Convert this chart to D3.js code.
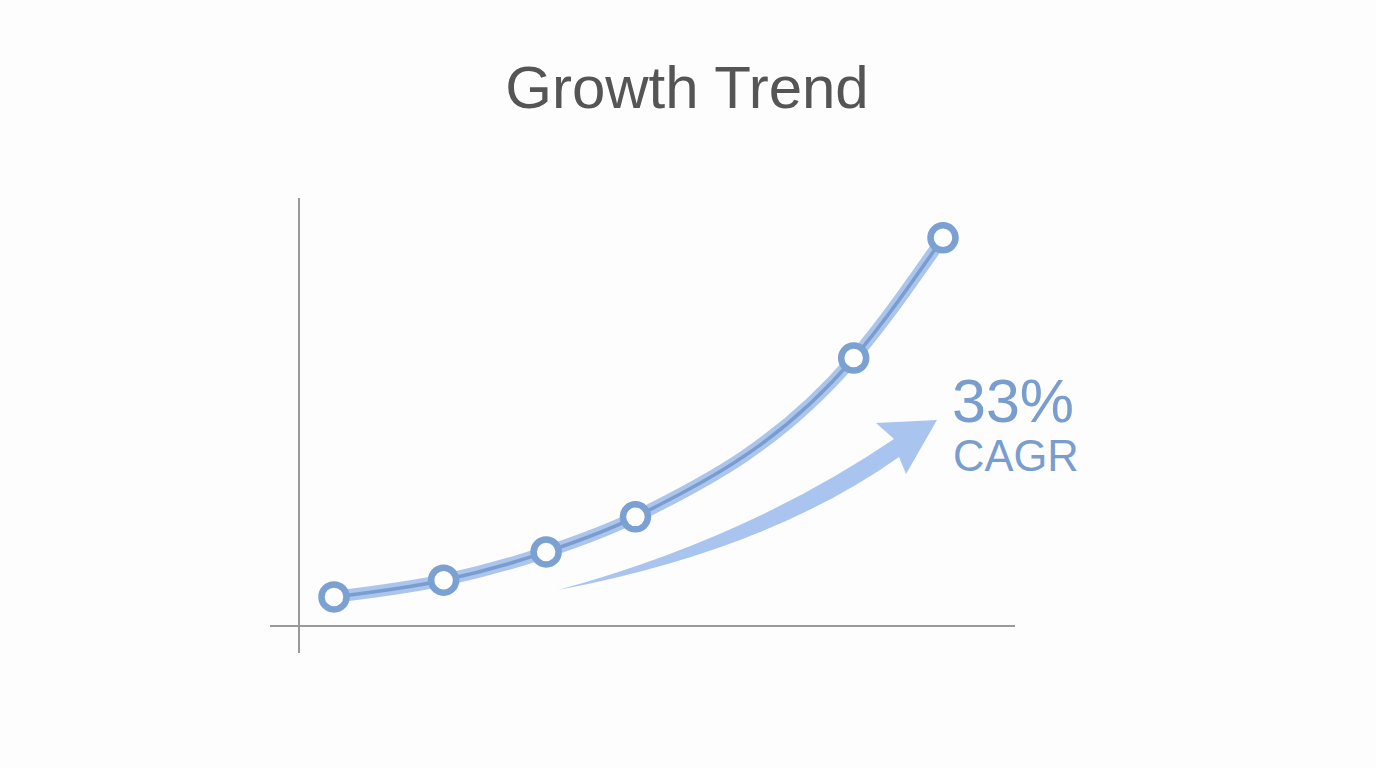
<!DOCTYPE html>
<html><head><meta charset="utf-8">
<script src="https://cdn.jsdelivr.net/npm/d3@7/dist/d3.min.js"></script>
<style>html,body{margin:0;padding:0;background:#fdfdfd;}svg{display:block;}</style>
</head><body>
<script>
const title = "Growth Trend";
const periods = [0, 1.08, 2.09, 2.97, 5.12, 6];
const values = [6.8, 10.7, 17.3, 25.5, 62.6, 90.7];
const cagrValue = "33%";
const cagrLabel = "CAGR";

const W = 1376, H = 768;
const svg = d3.select("body").append("svg").attr("width", W).attr("height", H);
svg.append("rect").attr("width", W).attr("height", H).attr("fill", "#fdfdfd");

const x = d3.scaleLinear().domain([0, 6]).range([334, 943]);
const y = d3.scaleLinear().domain([0, 100]).range([626, 198]);

svg.append("text").attr("x", 687).attr("y", 108).attr("text-anchor", "middle")
  .attr("font-family", "Liberation Sans, Arial, sans-serif").attr("font-size", 60)
  .attr("fill", "#555").text(title);

// axes
svg.append("line").attr("x1", 299).attr("x2", 299).attr("y1", 198).attr("y2", 653)
  .attr("stroke", "#9a9a9a").attr("stroke-width", 2);
svg.append("line").attr("x1", 270).attr("x2", 1015).attr("y1", y(0)).attr("y2", y(0))
  .attr("stroke", "#9a9a9a").attr("stroke-width", 2);

const data = periods.map((p, i) => ({p, v: values[i]}));
const line = d3.line().x(d => x(d.p)).y(d => y(d.v)).curve(d3.curveMonotoneX);

svg.append("path").attr("d", line(data)).attr("fill", "none")
  .attr("stroke", "#abc5ec").attr("stroke-width", 12).attr("stroke-linecap", "round");
svg.append("path").attr("d", line(data)).attr("fill", "none")
  .attr("stroke", "#7a9dcf").attr("stroke-width", 3.5);

svg.selectAll("circle.pt").data(data).enter().append("circle").attr("class", "pt")
  .attr("cx", d => x(d.p)).attr("cy", d => y(d.v)).attr("r", 12.5)
  .attr("fill", "#fff").attr("stroke", "#7ba0d2").attr("stroke-width", 6.5);

// growth arrow annotation
const arrow = d3.path();
arrow.moveTo(558, 590);
arrow.quadraticCurveTo(748, 538, 894, 439);
arrow.lineTo(876, 423);
arrow.lineTo(937, 420);
arrow.lineTo(906, 474);
arrow.lineTo(899, 457);
arrow.quadraticCurveTo(768, 550, 558, 590);
arrow.closePath();
svg.append("path").attr("d", arrow.toString()).attr("fill", "#a9c5ef");

svg.append("text").attr("x", 952).attr("y", 422)
  .attr("font-family", "Liberation Sans, Arial, sans-serif").attr("font-size", 61)
  .attr("fill", "#7a9dcf").text(cagrValue);
svg.append("text").attr("x", 953).attr("y", 471)
  .attr("font-family", "Liberation Sans, Arial, sans-serif").attr("font-size", 43.5)
  .attr("fill", "#7a9dcf").text(cagrLabel);
</script>
</body></html>
